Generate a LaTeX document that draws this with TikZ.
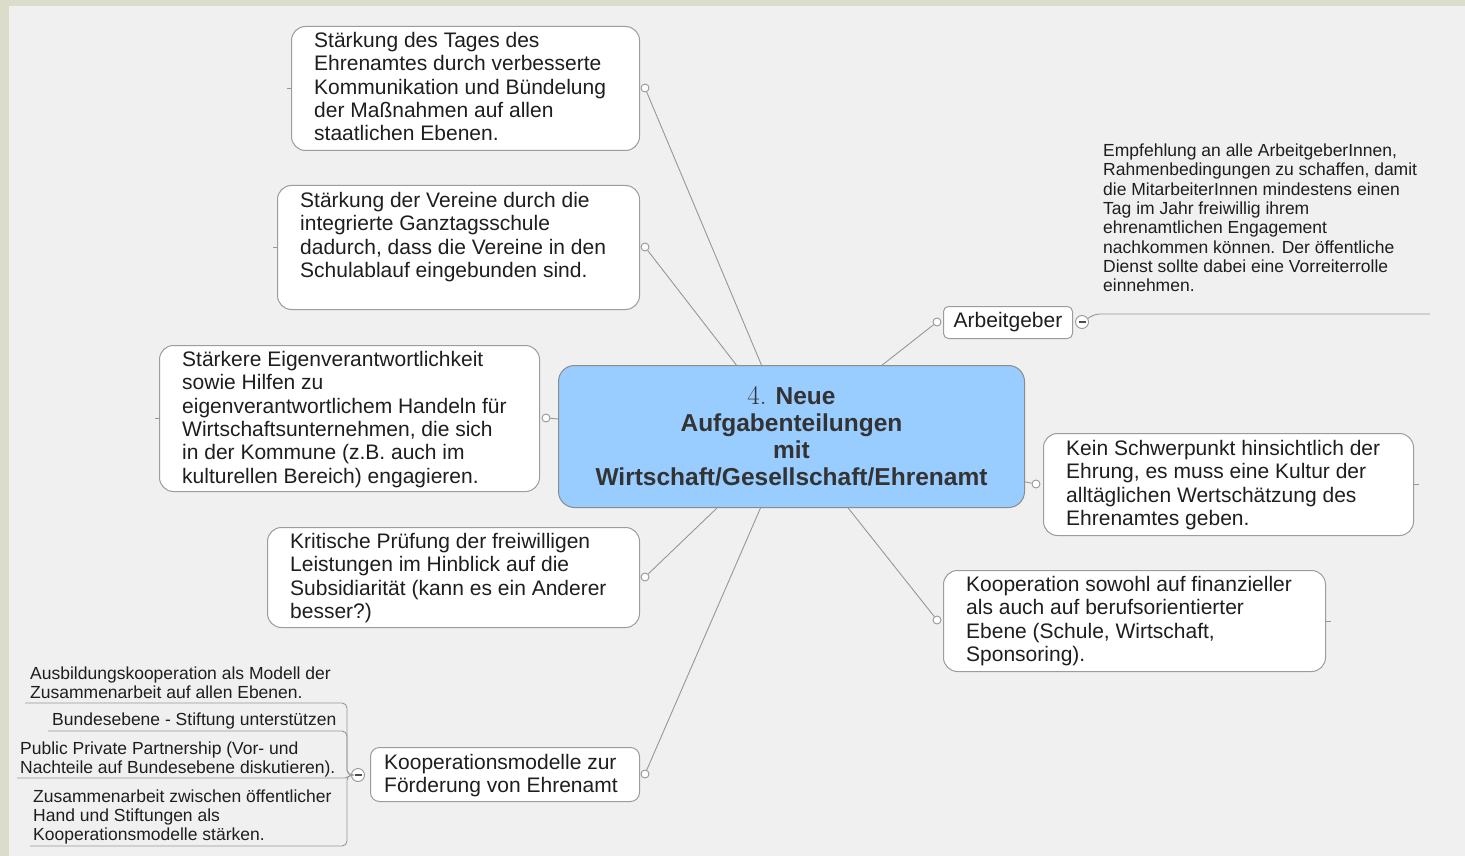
\documentclass[tikz,border=0pt]{standalone}
\usepackage{fontspec}
\newfontfamily\arial{Liberation Sans}
\definecolor{framec}{HTML}{DCDCCB}
\definecolor{bgc}{HTML}{F0F0F0}
\definecolor{boxborder}{HTML}{9C9C9C}
\definecolor{linec}{HTML}{979797}
\definecolor{ctrfill}{HTML}{99CCFF}
\definecolor{ctrborder}{HTML}{8C8C8C}
\definecolor{textc}{HTML}{1E1E1E}
\definecolor{ctrtext}{HTML}{333333}
\begin{document}
\begin{tikzpicture}[x=1pt,y=-1pt,
  box/.style={draw=boxborder, fill=white, rounded corners=14pt, line width=1pt, inner sep=0pt, anchor=north west},
  txt/.style={anchor=north west, inner sep=0pt, align=left, text=textc, font=\arial\fontsize{21}{23.3}\selectfont},
  small/.style={anchor=north west, inner sep=0pt, align=left, text=textc, font=\arial\fontsize{17.5}{19.3}\selectfont},
  conn/.style={draw=linec, line width=0.9pt},
  dot/.style={circle, draw=linec, fill=white, inner sep=0pt, minimum size=8pt, line width=0.9pt},
  minus/.style={circle, draw=linec, fill=white, inner sep=0pt, minimum size=13pt, line width=0.9pt},
  tick/.style={draw=linec, line width=0.8pt}]
\fill[framec] (0,0) rectangle (1465,856);
\fill[bgc] (9,6) rectangle (1465,856);
\useasboundingbox (0,0) rectangle (1465,856);

% central node
\node[draw=ctrborder, fill=ctrfill, rounded corners=16pt, line width=1pt, minimum width=466pt, minimum height=142pt, inner sep=0pt, anchor=north west, align=center, text=ctrtext, font=\arial\bfseries\fontsize{24.5}{27}\selectfont] (ctr) at (558,365)
 {{\rmfamily\mdseries\fontsize{27}{27}\selectfont 4.} Neue\\Aufgabenteilungen\\mit\\Wirtschaft/Gesellschaft/Ehrenamt};

% boxes
\node[box, minimum width=348pt, minimum height=124pt] (b1) at (291,26) {};
\node[txt] (t1) at (314,32.2) {Stärkung des Tages des\\Ehrenamtes durch verbesserte\\Kommunikation und Bündelung\\der Maßnahmen auf allen\\staatlichen Ebenen.};

\node[box, minimum width=362pt, minimum height=124pt] (b2) at (277,185) {};
\node[txt] (t2) at (300,192.2) {Stärkung der Vereine durch die\\integrierte Ganztagsschule\\dadurch, dass die Vereine in den\\Schulablauf eingebunden sind.};

\node[box, minimum width=380pt, minimum height=146pt] (b3) at (159,345) {};
\node[txt] (t3) at (182,351.2) {Stärkere Eigenverantwortlichkeit\\sowie Hilfen zu\\eigenverantwortlichem Handeln für\\Wirtschaftsunternehmen, die sich\\in der Kommune (z.B. auch im\\kulturellen Bereich) engagieren.};

\node[box, minimum width=372pt, minimum height=100pt] (b4) at (267,527) {};
\node[txt] (t4) at (290,533.2) {Kritische Prüfung der freiwilligen\\Leistungen im Hinblick auf die\\Subsidiarität (kann es ein Anderer\\besser?)};

\node[box, rounded corners=9pt, minimum width=269pt, minimum height=54pt] (b5) at (370,747) {};
\node[txt] (t5) at (384,754.2) {Kooperationsmodelle zur\\Förderung von Ehrenamt};

\node[box, rounded corners=5pt, minimum width=129pt, minimum height=32pt, text=textc, font=\arial\fontsize{21}{23.3}\selectfont] (b7) at (943,306) {Arbeitgeber};

\node[box, minimum width=370pt, minimum height=102pt] (b8) at (1043,433) {};
\node[txt] (t8) at (1066,440.2) {Kein Schwerpunkt hinsichtlich der\\Ehrung, es muss eine Kultur der\\alltäglichen Wertschätzung des\\Ehrenamtes geben.};

\node[box, minimum width=382pt, minimum height=101pt] (b9) at (943,570) {};
\node[txt] (t9) at (966,576.2) {Kooperation sowohl auf finanzieller\\als auch auf berufsorientierter\\Ebene (Schule, Wirtschaft,\\Sponsoring).};

% collapsed-branch ticks
\draw[tick] (b1.west) -- ++(-4,0);
\draw[tick] (b2.west) -- ++(-4,0);
\draw[tick] (b3.west) -- ++(-4,0);
\draw[tick] (b8.east) -- ++(5,0);
\draw[tick] (b9.east) -- ++(5,0);

% connection dots
\node[dot] (c1) at (645,88) {};
\node[dot] (c2) at (645,247) {};
\node[dot] (c3) at (546,418) {};
\node[dot] (c4) at (645,577) {};
\node[dot] (c5) at (645,774) {};
\node[dot] (c7) at (937,322) {};
\node[dot] (c8) at (1036,484) {};
\node[dot] (c9) at (937,620) {};

\foreach \c in {c1,c2,c3,c4,c5,c7,c8,c9} \draw[conn] (\c) -- (ctr);

% minus nodes
\node[minus] (m5) at (358,775) {};
\draw[black!70, line width=1.1pt] ([xshift=-3.5pt]m5.center) -- ([xshift=3.5pt]m5.center);
\node[minus] (m7) at (1082,322) {};
\draw[black!70, line width=1.1pt] ([xshift=-3.5pt]m7.center) -- ([xshift=3.5pt]m7.center);

% Arbeitgeber leaf
\node[small] (e1) at (1103,143.7) {Empfehlung an alle ArbeitgeberInnen,\\Rahmenbedingungen zu schaffen, damit\\die MitarbeiterInnen mindestens einen\\Tag im Jahr freiwillig ihrem\\ehrenamtlichen Engagement\\nachkommen können. Der öffentliche\\Dienst sollte dabei eine Vorreiterrolle\\einnehmen.};
\coordinate (e1u) at (1430,314);
\draw[conn, rounded corners=5pt] (m7) -- (1095,314) -- (e1u);

% Kooperationsmodelle leaves
\node[small] (l1) at (30,666.5) {Ausbildungskooperation als Modell der\\Zusammenarbeit auf allen Ebenen.};
\node[small] (l2) at (52,712.5) {Bundesebene - Stiftung unterstützen};
\node[small] (l3) at (20,741.8) {Public Private Partnership (Vor- und\\Nachteile auf Bundesebene diskutieren).};
\node[small] (l4) at (33,789.2) {Zusammenarbeit zwischen öffentlicher\\Hand und Stiftungen als\\Kooperationsmodelle stärken.};
\coordinate (l1u) at (25,703);
\coordinate (l2u) at (48,731);
\coordinate (l3u) at (17,778);
\coordinate (l4u) at (30,846);
\draw[conn, rounded corners=5pt] (l1u) -- (347,703) -- (347,775) -- (m5);
\draw[conn, rounded corners=5pt] (l2u) -- (347,731) -- (347,775) -- (m5);
\draw[conn, rounded corners=2pt] (l3u) -- (347,778) -- (350,775) -- (m5);
\draw[conn, rounded corners=5pt] (l4u) -- (347,846) -- (347,775) -- (m5);
\end{tikzpicture}
\end{document}
